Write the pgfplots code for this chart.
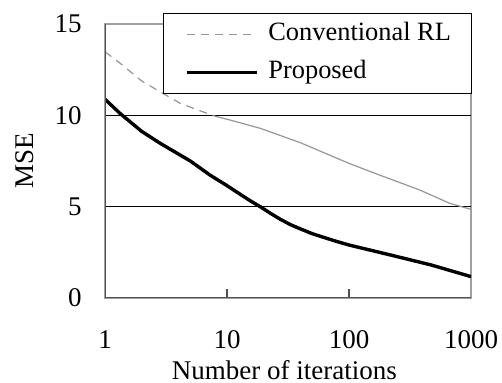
\documentclass[border=0pt]{standalone}
\usepackage{pgfplots}
\pgfplotsset{compat=1.18}
\usepackage{fontspec}
\setmainfont{Liberation Serif}
\definecolor{convgray}{RGB}{150,150,150}
\definecolor{axdark}{RGB}{80,80,80}
\definecolor{axlight}{RGB}{160,160,160}
\begin{document}
\fontsize{13.5}{16}\selectfont
\begin{tikzpicture}
\useasboundingbox (-52.5pt,-42.5pt) rectangle (198.5pt,149pt);
\begin{axis}[
  at={(0pt,0pt)}, anchor=origin,
  scale only axis, width=183pt, height=137pt,
  xmode=log, xmin=1, xmax=1000, ymin=0, ymax=15,
  xtick={1,10,100,1000}, xticklabels={1,10,100,1000},
  xminorticks=false,
  ytick={0,5,10,15},
  extra y ticks={5,10}, extra y tick labels={},
  extra y tick style={grid=major, major grid style={black, line width=0.5pt}, tick style={draw=none}},
  tick pos=left, tick align=inside, major tick length=4.5pt,
  tick style={axdark, line width=0.75pt},
  axis line style={draw=axlight, line width=0.75pt},
  /pgf/number format/assume math mode=true,
  ticklabel style={font=\fontsize{13.5}{16}\selectfont},
  yticklabel style={xshift=-7pt},
  xticklabel style={yshift=-11.5pt},
  xlabel={Number of iterations}, ylabel={MSE},
  xlabel style={at={(axis description cs:0.49,0)}, anchor=base, yshift=-41pt, font=\fontsize{13.5}{16}\selectfont},
  ylabel style={at={(axis description cs:-0.2186,0.5)}, anchor=center, font=\fontsize{13.5}{16}\selectfont},
  legend style={at={(rel axis cs:1.004,1.040)}, anchor=north east, draw=black, line width=0.5pt,
    fill=white, inner xsep=10.5pt, inner ysep=4.5pt, row sep=7pt,
    font=\fontsize{13.2}{16}\selectfont,
    nodes={inner sep=0pt, text height=9pt, text depth=3pt}},
  legend cell align=left,
  legend image code/.code={\draw[#1] (0pt,0pt) -- (35pt,0pt);},
]
\addplot[convgray, line width=0.6pt, dash pattern=on 4pt off 3pt] coordinates {
(1,13.48) (1.33,12.85) (2,11.88) (2.83,11.29) (4.12,10.66) (6,10.25) (8,9.95)
};
\addlegendentry{\hspace{5pt}Conventional RL\hspace{-2pt}}
\addplot[black, line width=1.7pt] coordinates {
(1,10.88) (1.33,10.1) (2,9.12) (2.83,8.47) (4.12,7.83) (5,7.5) (7.25,6.73) (10,6.15)
(12.8,5.68) (15.7,5.3) (18.7,5.0) (22.9,4.62) (27.2,4.32) (33,4.02) (40,3.78) (50,3.52)
(60,3.35) (77,3.12) (100,2.9) (220,2.35) (470,1.81) (1000,1.17)
};
\addlegendentry{\hspace{5pt}Proposed}
\addplot[convgray, line width=0.6pt, forget plot] coordinates {
(8,9.95) (10.6,9.74) (18.7,9.29) (40,8.50) (100,7.37) (178,6.73) (381,5.91) (671,5.18) (1000,4.85)
};
\draw[axdark, line width=0.75pt] (rel axis cs:0,1) -- (rel axis cs:0,0) -- (rel axis cs:1,0);
\end{axis}
\end{tikzpicture}
\end{document}
